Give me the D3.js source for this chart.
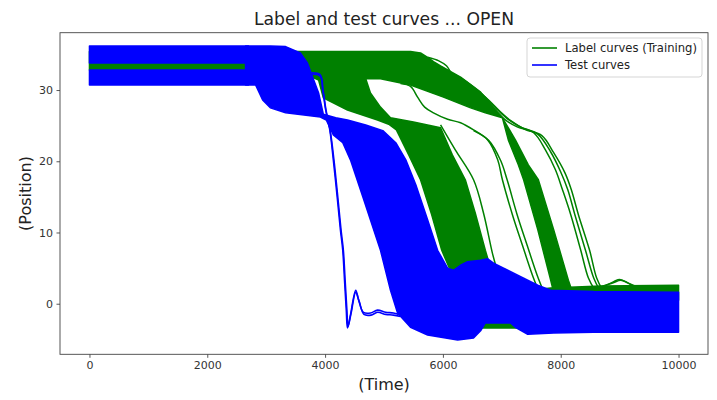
<!DOCTYPE html>
<html><head><meta charset="utf-8">
<script src="https://cdn.jsdelivr.net/npm/d3@7"></script>
<style>body{margin:0;background:#fff}svg{display:block}text{font-family:"DejaVu Sans",sans-serif}</style>
</head><body><svg id="c" width="717" height="400"></svg>
<script>
// ---- data (time, position) ----
const xTicks = [0, 2000, 4000, 6000, 8000, 10000];
const yTicks = [0, 10, 20, 30];
const seriesNames = ["Label curves (Training)", "Test curves"];
const titleText = "Label and test curves ... OPEN";

// Training (label) curve bundles, outlines of the dense bands
const greenBandMain = [[0,35.4],[5450,35.4],[5620,35.2],[5740,34.6],[5840,34.0],[5960,33.4],[6300,31.8],[6640,29.7],[6890,27.2],[7010,26.1],
  [6720,26.8],[6470,27.5],[6010,29.0],[5450,30.7],[4940,31.6],[4690,31.6],[4770,29.6],[4940,27.6],[5110,26.1],[5500,25.5],[5960,24.7],
  [6160,20.9],[6380,17.4],[6550,12.7],[6720,7.5],[6810,5.0],[6470,2.6],[6110,5.0],[5980,7.5],[5810,12.5],[5620,17.4],[5420,20.9],[5210,24.4],
  [5080,25.2],[4890,25.8],[4380,27.2],[3970,28.9],[3890,31.4],[3790,31.8],[3580,32.8],[0,32.8]];
const greenBandSteep = [[7010,26.1],[7110,23.0],[7280,19.5],[7370,17.4],[7610,10.4],[7830,3.3],[7880,1.6],
  [8200,1.6],[8130,3.3],[7880,10.4],[7620,17.4],[7450,19.5],[7230,23.0]];
const greenBandFinal = [[6040,0.5],[7830,2.2],[8680,2.5],[10000,2.6],[10000,0.5],[8680,-0.9],[7320,-3.4],[6640,-3.4],[6500,-2.2],[6040,-1.5]];
const greenSingleA = [[5280,30.9],[5450,30.5],[5570,29.0],[5690,27.6],[5840,26.8],[6080,25.9],[6300,25.4],[6520,24.4],[6760,23.0],[6930,20.2],[7010,17.4],[7180,12.5],[7350,8.2],[7520,4.0],[7620,1.9]];
const greenSingleB = [[6520,24.3],[6780,22.9],[6980,20.1],[7090,17.4],[7260,12.5],[7430,8.2],[7600,4.0],[7700,1.9]];
const greenBundle1 = [[5960,32.8],[6300,31.4],[6640,29.3],[6890,27.2],[7060,25.8],[7270,24.8],[7540,24.0],[7740,21.6],[7910,18.8],[8030,16.0],[8170,12.5],[8340,7.5],[8470,3.6],[8580,1.9]];
const greenBundle2 = [[5960,33.1],[6300,31.7],[6640,29.6],[6930,27.2],[7120,25.8],[7320,24.8],[7610,23.8],[7830,21.3],[8000,18.5],[8120,16.0],[8240,12.5],[8420,7.5],[8560,3.6],[8660,1.9]];
const greenBundle3 = [[5960,33.0],[6330,31.4],[6720,29.0],[6980,26.9],[7150,25.7],[7390,24.5],[7680,23.6],[7880,21.2],[8070,18.4],[8180,16.0],[8300,12.5],[8490,7.5],[8610,3.6],[8710,1.9]];
const greenEdge = [[5960,25.1],[6210,21.6],[6520,17.4],[6690,12.7],[6840,7.1],[6910,5.0]];
const greenLoop = [[5740,34.6],[5930,34.1],[6060,33.4],[6130,32.5],[6180,31.7]];
const greenBumpA = [[8680,2.4],[8880,2.9],[9020,3.3],[9150,2.9],[9290,2.4]];
const greenBumpB = [[8700,2.3],[8900,3.1],[9000,3.4],[9120,3.0],[9250,2.4]];

// Test curve bundles
const blueStripUpper = [[0,36.2],[2700,36.2],[2700,33.8],[0,33.8]];
const blueStripLower = [[0,32.8],[2700,32.8],[2700,30.7],[0,30.7]];
const blueBandMain = [[2650,36.2],[3070,36.2],[3330,36.1],[3580,35.2],[3700,33.8],[3790,31.8],[3890,29.6],[3970,26.6],[4180,26.1],[4380,25.8],
  [4690,25.1],[4980,24.3],[5200,22.6],[5370,20.2],[5540,16.7],[5740,11.8],[5910,7.5],[6080,5.0],[6180,4.7],[6300,5.4],[6420,5.9],[6640,6.1],
  [6760,6.3],[6860,5.7],[7100,4.7],[7320,3.8],[7610,2.6],[7830,1.9],[8560,1.7],[10000,1.6],
  [10000,-4.0],[9140,-4.0],[8560,-4.0],[7880,-4.1],[7440,-4.3],[7230,-3.3],[7150,-2.7],[6720,-2.7],[6640,-3.8],[6520,-4.8],[6250,-5.1],
  [5740,-4.4],[5450,-3.3],[5230,-1.3],[5110,1.9],[4940,7.5],[4640,15.0],[4430,20.2],[4300,22.6],[4140,23.7],[4020,25.8],[3920,26.2],
  [3330,26.8],[3070,27.5],[2940,28.6],[2820,30.7],[2650,30.7]];
const blueLineA = [[3580,32.0],[3910,32.0],[3960,30.0],[4010,27.2],[4080,24.4],[4140,20.2],[4210,14.6],[4260,10.4],[4300,7.5],[4330,3.3],[4360,-0.9],[4380,-3.4],
  [4430,-1.6],[4520,1.9],[4570,0.5],[4650,-1.2],[4770,-1.3],[4890,-0.9],[5030,-1.2],[5160,-1.3],[5280,-1.6]];
const blueLineB = [[3580,32.2],[3910,32.2],[3965,30.0],[4015,27.2],[4085,24.4],[4150,20.2],[4220,14.6],[4270,10.4],[4310,7.5],[4340,3.3],[4370,-0.9],[4390,-3.2],
  [4440,-1.4],[4520,1.6],[4580,0.3],[4660,-1.5],[4780,-1.6],[4890,-1.2],[5030,-1.5],[5160,-1.6],[5280,-1.8]];

const green = "#008000", blue = "#0000ff";
const greenShapes = [greenBandMain, greenBandSteep, greenBandFinal];
const greenLines = [greenSingleA, greenSingleB, greenBundle1, greenBundle2, greenBundle3, greenEdge, greenLoop, greenBumpA, greenBumpB];
const blueShapes = [blueStripUpper, blueStripLower, blueBandMain];
const blueLines = [blueLineA, blueLineB];

// ---- drawing ----
const svg = d3.select("#c");
const L = 60, R = 708, T = 32.7, B = 354.3;
const x = d3.scaleLinear().domain([-500, 10500]).range([L, R]);
const y = d3.scaleLinear().domain([-7.1, 38.05]).range([B, T]);

svg.append("defs").append("clipPath").attr("id","clip").append("rect")
  .attr("x", L).attr("y", T).attr("width", R-L).attr("height", B-T);
const plot = svg.append("g").attr("clip-path","url(#clip)");

const area = d3.line().x(d=>x(d[0])).y(d=>y(d[1])).curve(d3.curveLinearClosed);
const line = d3.line().x(d=>x(d[0])).y(d=>y(d[1])).curve(d3.curveCatmullRom.alpha(0.5));

function drawShapes(arr, col){
  plot.selectAll(null).data(arr).enter().append("path")
    .attr("d", area).attr("fill", col).attr("stroke", col).attr("stroke-width", 1.5).attr("stroke-linejoin","round");
}
function drawLines(arr, col, w){
  plot.selectAll(null).data(arr).enter().append("path")
    .attr("d", line).attr("fill","none").attr("stroke", col).attr("stroke-width", w).attr("stroke-linejoin","round");
}
drawShapes(greenShapes, green);
drawLines(greenLines, green, 1.5);
drawShapes(blueShapes, blue);
drawLines(blueLines, blue, 1.6);

// axes
const ax = svg.append("g").attr("transform", `translate(0,${B})`)
  .call(d3.axisBottom(x).tickValues(xTicks).tickSize(3.5).tickPadding(3.5).tickFormat(d3.format("d")));
const ay = svg.append("g").attr("transform", `translate(${L},0)`)
  .call(d3.axisLeft(y).tickValues(yTicks).tickSize(3.5).tickPadding(3.5).tickFormat(d3.format("d")));
[ax, ay].forEach(g => {
  g.select(".domain").remove();
  g.selectAll("line").attr("stroke", "#444").attr("stroke-width", 0.9);
  g.selectAll("text").attr("fill", "#333").style("font-size", "11px").style("font-family", "DejaVu Sans");
});
svg.append("rect").attr("x", L).attr("y", T).attr("width", R-L).attr("height", B-T)
  .attr("fill","none").attr("stroke","#444").attr("stroke-width",0.9);

// titles
svg.append("text").attr("x", (L+R)/2).attr("y", 25).attr("text-anchor","middle")
  .attr("fill","#222").style("font-size","17.2px").text(titleText);
svg.append("text").attr("x", (L+R)/2).attr("y", 390).attr("text-anchor","middle")
  .attr("fill","#222").style("font-size","16px").text("(Time)");
svg.append("text").attr("transform", `translate(31,${(T+B)/2}) rotate(-90)`).attr("text-anchor","middle")
  .attr("fill","#222").style("font-size","16px").text("(Position)");

// legend
const lg = svg.append("g");
lg.append("rect").attr("x",527).attr("y",38).attr("width",175).attr("height",39).attr("rx",3)
  .attr("fill","#fff").attr("fill-opacity",0.8).attr("stroke","#d5d5d5").attr("stroke-width",1);
const cols = [green, blue];
seriesNames.forEach((n,i) => {
  const yy = 48 + i*17;
  lg.append("line").attr("x1",532).attr("x2",557).attr("y1",yy).attr("y2",yy).attr("stroke",cols[i]).attr("stroke-width",1.6);
  lg.append("text").attr("x",565).attr("y",yy+4).attr("fill","#222").style("font-size","11.6px").text(n);
});
</script></body></html>
